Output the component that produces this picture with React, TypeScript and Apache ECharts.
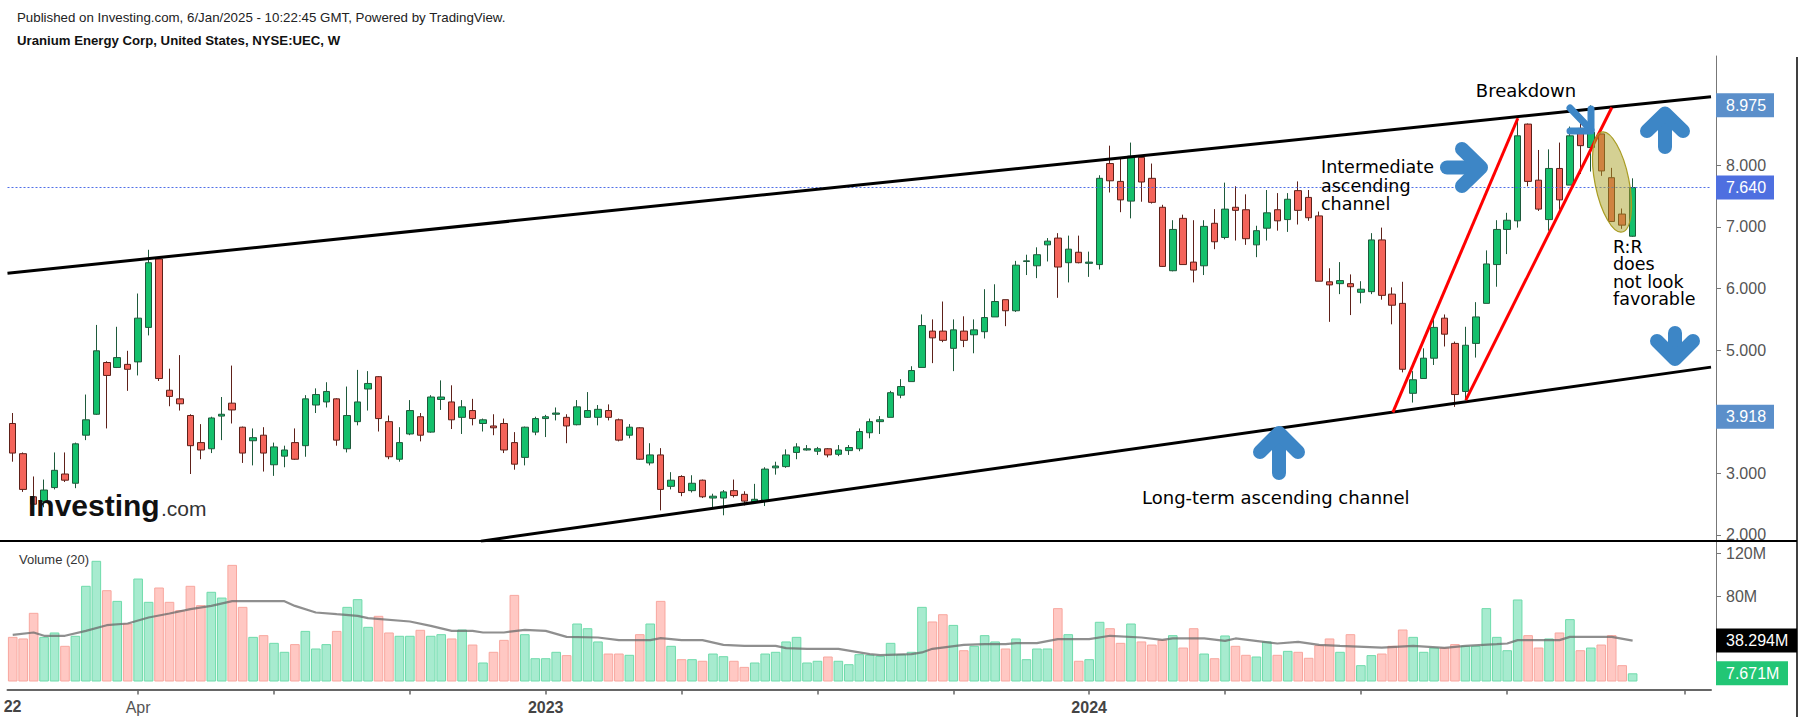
import React, { useEffect, useRef } from 'react';
import * as echarts from 'echarts';

// ---- Weekly OHLC (UEC), first bar = week of 2022-01-10 ----
const opens = [3.81,3.32,2.62,2.54,2.77,2.99,2.84,3.62,3.96,4.80,4.72,4.77,4.81,5.37,6.48,4.35,4.21,3.94,3.50,3.40,3.93,4.14,3.75,3.53,3.62,3.14,3.28,3.50,3.45,4.11,4.16,4.21,3.40,3.84,4.37,4.57,3.84,3.23,3.64,3.92,3.67,4.20,4.16,3.91,4.02,3.81,3.77,3.81,3.50,3.26,3.67,3.89,3.96,3.91,3.79,3.91,3.91,4.02,3.87,3.62,3.74,3.17,3.30,2.79,2.95,2.72,2.89,2.60,2.60,2.72,2.66,2.54,2.55,3.09,3.11,3.34,3.38,3.36,3.40,3.31,3.37,3.40,3.66,3.84,3.91,4.27,4.49,4.72,5.31,5.31,5.03,5.31,5.25,5.30,5.54,5.82,5.64,6.44,6.37,6.71,6.82,6.42,6.59,6.41,6.39,8.03,7.74,7.42,8.13,7.79,7.32,6.29,7.14,6.43,6.37,7.06,6.83,7.32,7.28,6.71,6.98,7.28,7.12,7.59,7.48,7.18,6.11,6.08,6.08,5.94,5.95,6.79,5.91,5.76,4.30,4.54,4.87,5.52,5.11,4.33,5.11,5.76,6.39,6.96,7.10,8.67,7.76,7.12,7.95,7.68,8.60,8.29,8.51,7.80,7.21,6.85];
const closes = [3.33,2.74,2.50,2.73,3.05,2.89,3.48,3.87,4.99,4.59,4.88,4.69,5.52,6.42,4.54,4.25,4.13,3.45,3.38,3.90,3.96,4.03,3.33,3.58,3.33,3.43,3.38,3.23,4.21,4.28,4.33,3.54,3.94,4.16,4.46,3.89,3.27,3.50,4.02,3.62,4.24,4.24,3.87,4.08,3.89,3.87,3.74,3.38,3.15,3.75,3.89,3.92,3.98,3.77,4.08,4.02,4.04,3.91,3.54,3.75,3.23,3.30,2.74,2.89,2.69,2.84,2.62,2.63,2.70,2.64,2.55,2.58,3.07,3.12,3.30,3.43,3.40,3.40,3.30,3.38,3.42,3.68,3.84,3.87,4.31,4.41,4.67,5.40,5.20,5.16,5.33,5.16,5.33,5.53,5.79,5.64,6.38,6.45,6.55,6.77,6.35,6.64,6.42,6.43,7.79,7.75,7.44,8.15,7.73,7.40,6.36,6.96,6.39,6.30,7.01,6.76,7.29,7.27,6.81,6.94,7.23,7.10,7.45,7.27,7.15,6.12,6.06,6.13,6.03,5.99,6.79,5.89,5.73,4.69,4.52,4.87,5.37,5.26,4.28,5.08,5.54,6.40,6.96,7.11,8.48,7.74,7.29,7.95,7.44,8.48,8.32,8.54,7.91,7.09,7.03,7.64];
const lows = [3.19,2.70,2.42,2.45,2.74,2.86,2.76,3.54,3.95,3.73,4.71,4.34,4.59,5.24,4.50,4.09,4.02,2.99,3.23,3.33,3.54,3.81,3.17,3.13,3.03,2.96,3.10,3.22,3.27,3.98,4.07,3.45,3.34,3.78,4.02,3.68,3.23,3.19,3.62,3.52,3.66,4.03,3.72,3.64,3.78,3.68,3.62,3.33,3.06,3.13,3.62,3.59,3.86,3.49,3.78,3.90,3.78,3.86,3.52,3.57,3.22,3.13,2.40,2.74,2.63,2.69,2.60,2.45,2.32,2.61,2.48,2.53,2.47,2.98,3.09,3.23,3.37,3.30,3.26,3.28,3.30,3.36,3.57,3.64,3.91,4.22,4.49,4.72,4.79,5.13,4.66,5.05,4.95,5.19,5.54,5.39,5.62,6.22,6.17,6.44,5.85,6.10,6.41,6.19,6.31,7.56,7.24,7.14,7.41,7.38,6.35,6.28,6.39,6.10,6.22,6.64,6.80,6.78,6.71,6.51,6.78,6.94,6.92,7.04,7.10,6.12,5.46,5.91,5.57,5.76,5.91,5.82,5.42,4.64,4.15,4.54,4.76,5.06,4.08,4.19,4.88,5.76,6.03,6.56,6.99,7.66,7.26,6.94,7.28,7.68,7.86,7.90,7.83,7.08,6.97,6.84];
const highs = [3.98,3.34,2.95,2.90,3.34,3.34,3.50,4.28,5.41,4.82,5.38,4.99,5.92,6.63,6.51,4.70,4.92,3.96,3.80,3.92,4.24,4.75,3.76,3.73,3.75,3.50,3.45,3.73,4.27,4.38,4.48,4.22,4.41,4.68,4.66,4.58,3.94,3.75,4.19,3.98,4.27,4.51,4.43,4.19,4.21,3.89,3.96,3.89,3.67,3.76,3.92,3.95,4.07,3.96,4.19,4.32,4.11,4.12,3.89,3.80,3.75,3.49,3.41,3.02,2.97,2.97,2.90,2.67,2.73,2.90,2.71,2.83,3.10,3.19,3.39,3.49,3.46,3.43,3.41,3.46,3.46,3.73,3.89,3.93,4.34,4.53,4.74,5.58,5.50,5.79,5.50,5.55,5.50,5.99,6.07,5.82,6.45,6.55,6.67,6.82,6.90,6.86,6.86,6.60,7.84,8.32,8.11,8.37,8.14,8.03,7.36,7.11,7.20,7.11,7.11,7.29,7.72,7.66,7.53,7.02,7.60,7.55,7.55,7.74,7.60,7.25,6.33,6.43,6.23,6.12,6.90,6.99,6.02,6.11,4.66,5.03,5.57,5.58,5.14,5.38,5.78,6.62,7.11,7.23,8.76,8.68,8.25,8.26,8.37,8.63,8.74,8.975,8.51,7.96,7.30,7.79];
// weekly volume, millions
const volumes = [41.8,40.3,64.3,41.8,45.9,33.4,42.8,89.6,113,85.5,75.5,54.3,96.4,74.6,88,74.6,66.8,89.6,71.5,84,78.6,109.2,69.9,41.8,43.4,36.2,27.8,35,47.4,30.9,35,47.4,69.9,77.1,51.2,61.5,45.9,42.8,42.8,48.4,42.8,44.3,40.3,48.7,34.6,17.8,27.8,39,81.1,44.3,21.8,21.8,27.8,24.7,54.3,49.9,37.5,26.2,26.2,25,44.3,54.3,75.5,33.4,20.9,20.9,19.4,26.2,23.7,19.4,13.7,17.8,26.2,27.8,37.5,41.8,17.8,19.4,23.4,19.4,16.2,25.6,25,24,36.2,25.6,27.8,69.9,56.2,63,53,29.3,33.4,43.4,37.5,30.9,40.3,20.9,30.9,30.9,68.7,44.3,19.4,20.9,55.9,49.9,36.2,54.3,37.5,34.6,39,43.4,31.8,49.9,26.2,21.8,43.1,33.4,25,23.4,37.5,25,28.7,27.8,22.2,34,40.3,27.8,44.3,15.3,24.7,26.2,33.4,48.7,41.8,27.8,31.8,31.8,35,33.4,33.4,68.7,41.8,29.3,76.8,43.4,31.8,40.3,45.9,58.4,29.3,31.8,34.6,43.4,15.3,7.67];
// Volume MA(20) read at selected bars
const maIdx = [0,2,3,5,7,9,11,13,15,17,19,21,26,27,29,31,33,34,38,40,42,44,45,47,49,51,53,56,58,61,62,64,66,68,70,73,74,76,79,82,83,86,87,88,91,93,95,96,98,100,103,105,108,110,111,114,116,117,121,123,125,127,131,134,137,139,142,143,144,148,149,153,155];
const maVal = [43.7,45.9,42.8,42.8,47.4,52.7,54.3,59.9,63.7,67.7,70.8,75.2,75.2,70.8,64.6,63,61.5,59.3,56.2,52.1,47.4,47.4,45.9,45.9,48.4,47.4,41.8,41.2,38.7,38.7,40.6,38.7,38.7,34.3,33.4,33.4,31.2,30.6,30.6,25.6,24.7,25.6,27.2,30.6,34.3,35,35,35.9,35.9,39.6,39.6,42.8,41.2,39,40.3,40.3,38.1,40.3,35.6,37.1,34.3,33.4,31.8,33.4,31.5,33.4,35,35.6,38.7,38.7,41.8,41.8,38.3];

// x-axis ticks/labels (bar indices)
const tickIdx = [12,25,38,51,64,77,90,103,116,129,143,160];
const labelIdx = [12,51,103];
const labelText = ['Apr','2023','2024'];
const labelBold = [false,true,true];
const cutYearLabel = '22';

// price axis & volume axis tick values (labels hidden where a badge covers them)
const priceTicks = [2,3,4,5,6,7,8,9];
const priceLabels = [2,3,5,6,7,8];
const volTicks = [0,40,80,120];
const volLabels = [80,120];

// drawn trend lines [barIndex, price]
const upperChannel = [[-0.5,6.25],[162.5,9.115]];
const lowerChannel = [[44.8,1.9],[162.5,4.725]];
const redLineA = [[132.06,3.99],[144.02,8.765]];
const redLineB = [[139.04,4.19],[153.01,8.94]];

const lastPrice = 7.64;
const priceBadgeVals = [8.975,7.64,3.918];
const priceBadgeText = ['8.975','7.640','3.918'];
const priceBadgeColor = ['#5b8fca','#4e6fe0','#5b8fca'];
const volBadgeVals = [38.294,7.671];
const volBadgeText = ['38.294M','7.671M'];
const volBadgeColor = ['#000000','#22c675'];
const volBadgeW = [81,72];

const TOTAL = 163;

export default function App() {
  const ref = useRef<HTMLDivElement>(null);
  useEffect(() => {
    const el = ref.current as HTMLDivElement;
    const chart = echarts.init(el, null, { renderer: 'svg' });
    const cats: string[] = [];
    const t0 = Date.UTC(2022, 0, 10);
    for (let i = 0; i < TOTAL; i++) {
      const d = new Date(t0 + i * 7 * 86400000);
      cats.push(d.toISOString().slice(0, 10));
    }
    const candles = opens.map((o, i) => [o, closes[i], lows[i], highs[i]]);
    const volData = volumes.map((v, i) => {
      const up = closes[i] >= opens[i];
      return {
        value: v,
        itemStyle: {
          color: up ? '#a7ebcf' : '#ffc8c3',
          borderColor: up ? '#6fdbab' : '#f8a79f',
          borderWidth: 1,
        },
      };
    });
    const maData = maIdx.map((x, i) => [x, maVal[i]]);
    const gridL = 7.5;
    const gridR = 93;
    const lineSeries = (data: number[][], color: string) => ({
      type: 'line',
      xAxisIndex: 2,
      yAxisIndex: 0,
      data,
      symbol: 'none',
      silent: true,
      z: 5,
      lineStyle: { color, width: 3 },
    });
    const sans = 'Liberation Sans, Arial, sans-serif';

    chart.setOption({
      animation: false,
      backgroundColor: '#ffffff',
      grid: [
        { left: gridL, right: gridR, top: 56, bottom: 182 },
        { left: gridL, right: gridR, top: 541, bottom: 41.5 },
      ],
      xAxis: [
        {
          type: 'category', gridIndex: 0, data: cats, boundaryGap: true,
          axisLine: { show: false, onZero: false }, axisTick: { show: false }, axisLabel: { show: false }, splitLine: { show: false },
        },
        {
          type: 'category', gridIndex: 1, data: cats, boundaryGap: true, offset: 8,
          axisLine: { show: true, onZero: false, lineStyle: { color: '#666', width: 2 } },
          axisTick: {
            show: true, alignWithLabel: true, length: 5,
            interval: (i: number) => tickIdx.indexOf(i) >= 0,
            lineStyle: { color: '#666', width: 1.5 },
          },
          axisLabel: {
            show: true, margin: 10,
            interval: (i: number) => labelIdx.indexOf(i) >= 0,
            formatter: (_v: string, i: number) => {
              const k = labelIdx.indexOf(i);
              if (k < 0) return '';
              return labelBold[k] ? '{b|' + labelText[k] + '}' : '{n|' + labelText[k] + '}';
            },
            rich: {
              b: { fontSize: 16, fontWeight: 'bold', color: '#444', fontFamily: sans },
              n: { fontSize: 16, color: '#555', fontFamily: sans },
            },
          },
          splitLine: { show: false },
        },
        {
          type: 'value', gridIndex: 0, min: -0.5, max: TOTAL - 0.5, show: false,
          axisLine: { show: false, onZero: false }, splitLine: { show: false },
        },
      ],
      yAxis: [
        {
          type: 'value', gridIndex: 0, position: 'right', offset: 5,
          min: 1.9026, max: 9.7756,
          splitLine: { show: false },
          axisLine: { show: true, onZero: false, lineStyle: { color: '#777', width: 1 } },
          axisTick: { show: true, length: 5, customValues: priceTicks, lineStyle: { color: '#777' } },
          axisLabel: {
            customValues: priceLabels, margin: 10, color: '#555', fontSize: 16,
            fontFamily: sans,
            formatter: (v: number) => v.toFixed(3),
          },
        },
        {
          type: 'value', gridIndex: 1, position: 'right', offset: 5,
          min: 0, max: 131.55,
          splitLine: { show: false },
          axisLine: { show: true, onZero: false, lineStyle: { color: '#777', width: 1 } },
          axisTick: { show: true, length: 5, customValues: volTicks, lineStyle: { color: '#777' } },
          axisLabel: {
            customValues: volLabels, margin: 10, color: '#555', fontSize: 16,
            fontFamily: sans,
            formatter: (v: number) => (v === 0 ? '0' : v + 'M'),
          },
        },
      ],
      series: [
        {
          type: 'candlestick', xAxisIndex: 0, yAxisIndex: 0, data: candles, barWidth: 7, z: 3,
          itemStyle: {
            color: '#14c06c', color0: '#f4645a',
            borderColor: '#1e5a3b', borderColor0: '#5e2019', borderWidth: 1,
          },
          markLine: {
            silent: true, symbol: ['none', 'none'], label: { show: false },
            lineStyle: { color: '#3d5fe6', type: [2, 2], width: 1.2, opacity: 0.9 },
            data: [{ yAxis: lastPrice }],
          },
        },
        lineSeries(upperChannel, '#000000'),
        lineSeries(lowerChannel, '#000000'),
        lineSeries(redLineA, '#ff0000'),
        lineSeries(redLineB, '#ff0000'),
        {
          type: 'bar', xAxisIndex: 1, yAxisIndex: 1, data: volData, barCategoryGap: '8%',
        },
        {
          type: 'line', xAxisIndex: 1, yAxisIndex: 1, data: maData, symbol: 'none', silent: true,
          lineStyle: { color: 'rgba(105,105,105,0.75)', width: 2.2 },
        },
      ],
    });

    const py = (v: number) => chart.convertToPixel({ yAxisIndex: 0 }, v) as unknown as number;
    const vy = (v: number) => chart.convertToPixel({ yAxisIndex: 1 }, v) as unknown as number;
    const blue = '#3d86c6';
    const stroke = (points: number[][], w: number) => ({
      type: 'polyline', z: 120, silent: true,
      shape: { points },
      style: { stroke: blue, lineWidth: w, fill: 'none', lineCap: 'round', lineJoin: 'round' },
    });
    const txt = (text: string, x: number, y: number, size: number, opts: any = {}) => ({
      type: 'text', z: 130, silent: true, x, y,
      style: {
        text, fontSize: size, fontFamily: opts.family || 'DejaVu Sans, Verdana, sans-serif',
        fontWeight: opts.weight || 'normal', fill: opts.color || '#000',
        textAlign: opts.align || 'left', textVerticalAlign: 'middle',
      },
    });
    const g: any[] = [];
    // header
    g.push(txt('Published on Investing.com, 6/Jan/2025 - 10:22:45 GMT, Powered by TradingView.', 17, 17, 13.3, { family: sans, color: '#222' }));
    g.push(txt('Uranium Energy Corp, United States, NYSE:UEC, W', 17, 40.5, 13.2, { family: sans, weight: 'bold', color: '#111' }));
    // pane frame lines
    g.push({ type: 'line', z: 110, silent: true, shape: { x1: 0, y1: 541, x2: 1797, y2: 541 }, style: { stroke: '#000', lineWidth: 2 } });
    g.push({ type: 'line', z: 110, silent: true, shape: { x1: 1797, y1: 57, x2: 1797, y2: 717 }, style: { stroke: '#000', lineWidth: 1.5 } });
    // volume label & cut-off year label
    g.push(txt('Volume (20)', 19, 559, 13, { family: sans, color: '#333' }));
    g.push(txt(cutYearLabel, 21.5, 706.5, 16, { family: sans, weight: 'bold', color: '#444', align: 'right' }));
    // logo
    g.push(txt('Investing', 28, 505, 30, { family: sans, weight: 'bold', color: '#111' }));
    g.push(txt('.com', 161, 508, 21, { family: sans, color: '#333' }));
    // ellipse highlight
    g.push({
      type: 'ellipse', z: 100, silent: true, x: 1612, y: 182, rotation: 0.2,
      shape: { cx: 0, cy: 0, rx: 17, ry: 51 },
      style: { fill: 'rgba(170,162,40,0.5)', stroke: '#a99c22', lineWidth: 1.2 },
    });
    // arrows
    g.push(stroke([[1447, 167.5], [1479, 167.5]], 14));
    g.push(stroke([[1462, 149], [1481, 167.5], [1462, 186]], 14));
    g.push(stroke([[1665, 147], [1665, 115]], 14));
    g.push(stroke([[1647, 131], [1665, 113.5], [1683, 131]], 14));
    g.push(stroke([[1675, 333], [1675, 357]], 14));
    g.push(stroke([[1657, 341], [1675, 359], [1693, 341]], 14));
    g.push(stroke([[1279, 473], [1279, 434]], 14));
    g.push(stroke([[1260, 452], [1279, 433], [1298, 452]], 14));
    g.push(stroke([[1570, 108], [1591, 130]], 7));
    g.push(stroke([[1591, 109], [1591, 131], [1570, 131]], 7));
    // annotation texts
    g.push(txt('Breakdown', 1526, 90, 18, { align: 'center' }));
    ['Intermediate', 'ascending', 'channel'].forEach((s, i) => g.push(txt(s, 1321, 167 + i * 18.5, 17.5)));
    ['R:R', 'does', 'not look', 'favorable'].forEach((s, i) => g.push(txt(s, 1613, 246.7 + i * 17.5, 17.5)));
    g.push(txt('Long-term ascending channel', 1142, 497, 18));
    // price badges
    priceBadgeVals.forEach((v, i) => {
      const y = py(v);
      g.push({ type: 'rect', z: 140, silent: true, shape: { x: 1716, y: y - 12, width: 58, height: 24 }, style: { fill: priceBadgeColor[i] } });
      g.push({ ...txt(priceBadgeText[i], 1726, y, 16, { family: sans, color: '#fff' }), z: 141 });
    });
    volBadgeVals.forEach((v, i) => {
      const y = vy(v);
      g.push({ type: 'rect', z: 140, silent: true, shape: { x: 1716, y: y - 12, width: volBadgeW[i], height: 24 }, style: { fill: volBadgeColor[i] } });
      g.push({ ...txt(volBadgeText[i], 1726, y, 16, { family: sans, color: '#fff' }), z: 141 });
    });
    chart.setOption({ graphic: g });

    return () => chart.dispose();
  }, []);
  return (
    <div
      ref={ref}
      style={{ position: 'absolute', left: 0, top: 0, width: 1804, height: 723, background: '#fff' }}
    />
  );
}
